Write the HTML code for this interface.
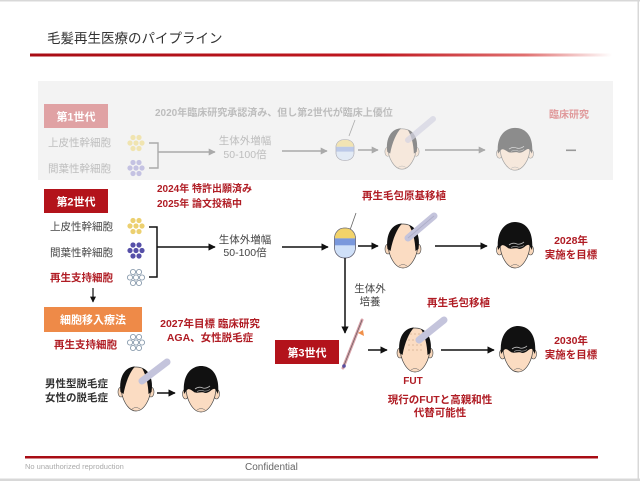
<!DOCTYPE html>
<html><head><meta charset="utf-8">
<style>
html,body{margin:0;padding:0;background:#fff;}
svg{display:block;}
text{font-family:"Liberation Sans","Noto Sans CJK JP",sans-serif;}
</style></head>
<body>
<svg width="640" height="481" viewBox="0 0 640 481" xmlns="http://www.w3.org/2000/svg">
<defs>
  <linearGradient id="tl" x1="30" y1="0" x2="612" y2="0" gradientUnits="userSpaceOnUse">
    <stop offset="0" stop-color="#a80c14"/>
    <stop offset="0.6" stop-color="#c01820"/>
    <stop offset="0.85" stop-color="#e07070"/>
    <stop offset="1" stop-color="#fff"/>
  </linearGradient>
  <marker id="ah" viewBox="0 0 10 10" refX="9" refY="5" markerWidth="5" markerHeight="5" orient="auto">
    <path d="M0,0 L10,5 L0,10 Z" fill="#111"/>
  </marker>
  <marker id="ahg" viewBox="0 0 10 10" refX="9" refY="5" markerWidth="5" markerHeight="5" orient="auto">
    <path d="M0,0 L10,5 L0,10 Z" fill="#aaa"/>
  </marker>
  <g id="bald">
    <ellipse cx="-15" cy="3" rx="3" ry="5" fill="#f8d7bb" stroke="#444" stroke-width=".6"/>
    <ellipse cx="15" cy="3" rx="3" ry="5" fill="#f8d7bb" stroke="#444" stroke-width=".6"/>
    <path d="M-15,-3 C-15,-17 -8,-22 0,-22 C8,-22 15,-17 15,-3 C15,10 8,22 0,22 C-8,22 -15,10 -15,-3Z" fill="#fbdcc2" stroke="#444" stroke-width=".7"/>
    <path d="M-15.5,3 C-17.5,-12 -11,-22 -1,-22.5 C-6,-17 -10,-8 -12.5,5 Z" fill="#111"/>
    <path d="M15.5,3 C17.5,-10 13,-19 6,-21 C10,-14 12,-6 12.5,5 Z" fill="#111"/>
    <path d="M-4,20 q4,-3 8,0" fill="none" stroke="#666" stroke-width=".5"/>
  </g>
  <g id="full">
    <ellipse cx="-15.5" cy="4" rx="3" ry="5" fill="#f8d7bb" stroke="#444" stroke-width=".6"/>
    <ellipse cx="15.5" cy="4" rx="3" ry="5" fill="#f8d7bb" stroke="#444" stroke-width=".6"/>
    <path d="M-15,-3 C-15,-17 -8,-22 0,-22 C8,-22 15,-17 15,-3 C15,10 8,22 0,22 C-8,22 -15,10 -15,-3Z" fill="#fbdcc2" stroke="#444" stroke-width=".7"/>
    <path d="M-17,4 C-19,-16 -9,-24 0,-24 C10,-24 19,-16 17,4 L14,-1 C11,-2 9,3 4,3 C0,1 -4,4 -7,2 C-10,0 -12,-2 -14,0 Z" fill="#111"/>
    <path d="M-6,-1 q4,-3 8,-1 q3,1 7,-2" fill="none" stroke="#bbb" stroke-width=".8"/>
    <path d="M-4,1.5 q4,-2 7,-0.5 q3,0.5 6,-1.5" fill="none" stroke="#999" stroke-width=".7"/>
    <path d="M-4,20 q4,-3 8,0" fill="none" stroke="#666" stroke-width=".5"/>
  </g>
  <g id="flask">
    <rect x="-10" y="-13" width="20" height="26" rx="9" fill="#cfe0f8" stroke="#667" stroke-width=".6"/>
    <path d="M-10,-4 C-10,-10 -5,-13 0,-13 C5,-13 10,-10 10,-4 Z" fill="#f2d36a"/>
    <rect x="-10" y="-4" width="20" height="6" fill="#7a98dc"/>
    <rect x="-10" y="-13" width="20" height="26" rx="9" fill="none" stroke="#667" stroke-width=".6"/>
  </g>
  <g id="dotsY">
    <circle cx="133" cy="0" r="2.6"/><circle cx="139" cy="0" r="2.6"/>
    <circle cx="130" cy="5.5" r="2.6"/><circle cx="136" cy="5.5" r="2.6"/><circle cx="142" cy="5.5" r="2.6"/>
    <circle cx="133" cy="11" r="2.6"/><circle cx="139" cy="11" r="2.6"/>
  </g>
</defs>

<!-- page borders -->
<rect x="0" y="0" width="640" height="1.5" fill="#d8d8d8"/>
<rect x="637.5" y="0" width="1.5" height="481" fill="#d8d8d8"/>
<rect x="0" y="478.5" width="640" height="2.5" fill="#d8d8d8"/>

<!-- title -->
<text x="47" y="43" font-size="13.5" fill="#333">毛髪再生医療のパイプライン</text>
<rect x="30" y="53.5" width="582" height="3" fill="url(#tl)"/>

<!-- Gen1 gray box -->
<rect x="38" y="81" width="575" height="99" fill="#f3f3f3"/>
<rect x="44" y="104" width="64" height="24" fill="#e0a2a4"/>
<text x="76" y="120.5" font-size="11" font-weight="bold" fill="#fff" text-anchor="middle">第1世代</text>
<text x="155" y="116" font-size="10" font-weight="bold" fill="#bdbdbd">2020年臨床研究承認済み、但し第2世代が臨床上優位</text>
<text x="549" y="118" font-size="10" font-weight="bold" fill="#e0999b">臨床研究</text>
<text x="48" y="146" font-size="10.5" fill="#bdbdbd">上皮性幹細胞</text>
<text x="48" y="172" font-size="10.5" fill="#bdbdbd">間葉性幹細胞</text>
<use href="#dotsY" transform="translate(0,137.5)" fill="#f0e4b0"/>
<use href="#dotsY" transform="translate(0,162.5)" fill="#c4c2e2"/>
<path d="M149,143 H158 V168 H149" fill="none" stroke="#aaa" stroke-width="1.4"/>
<line x1="158" y1="152" x2="215" y2="152" stroke="#aaa" stroke-width="1.4" marker-end="url(#ahg)"/>
<text x="245" y="144" font-size="10.5" fill="#bdbdbd" text-anchor="middle">生体外増幅</text>
<text x="245" y="158" font-size="10.5" fill="#bdbdbd" text-anchor="middle">50-100倍</text>
<line x1="282" y1="151" x2="327" y2="151" stroke="#aaa" stroke-width="1.4" marker-end="url(#ahg)"/>
<g opacity="0.45">
  <line x1="349" y1="136" x2="355" y2="120" stroke="#555" stroke-width=".8"/>
  <use href="#flask" transform="translate(345,150) scale(0.9,0.8)"/>
  <use href="#bald" transform="translate(402,149) scale(0.95,0.92)"/>
  <use href="#full" transform="translate(515,150) scale(1,0.92)"/>
</g>
<line x1="408" y1="140" x2="433" y2="119" stroke="#d4d4e2" stroke-width="6" stroke-linecap="round" opacity="0.7"/>
<line x1="358" y1="150" x2="378" y2="150" stroke="#aaa" stroke-width="1.4" marker-end="url(#ahg)"/>
<line x1="425" y1="150" x2="485" y2="150" stroke="#aaa" stroke-width="1.4" marker-end="url(#ahg)"/>
<rect x="566" y="149.5" width="10" height="1.6" fill="#999"/>

<!-- Gen2 -->
<rect x="44" y="189" width="64" height="24" fill="#b3131b"/>
<text x="76" y="205.5" font-size="11" font-weight="bold" fill="#fff" text-anchor="middle">第2世代</text>
<text x="157" y="192" font-size="10" font-weight="bold" fill="#b01c24">2024年  特許出願済み</text>
<text x="157" y="207" font-size="10" font-weight="bold" fill="#b01c24">2025年  論文投稿中</text>
<text x="50" y="230" font-size="10.5" fill="#444">上皮性幹細胞</text>
<text x="50" y="256" font-size="10.5" fill="#444">間葉性幹細胞</text>
<text x="50" y="281" font-size="10.5" font-weight="bold" fill="#b01c24">再生支持細胞</text>
<use href="#dotsY" transform="translate(0,220.5)" fill="#ecd070"/>
<use href="#dotsY" transform="translate(0,245)" fill="#5650a8"/>
<use href="#dotsY" transform="translate(0,272)" fill="none" stroke="#8a9cae" stroke-width=".9"/>
<path d="M149,227 H157 V277 H149" fill="none" stroke="#111" stroke-width="1.5"/>
<line x1="157" y1="247" x2="215" y2="247" stroke="#111" stroke-width="1.5" marker-end="url(#ah)"/>
<text x="245" y="243" font-size="10.5" fill="#444" text-anchor="middle">生体外増幅</text>
<text x="245" y="256" font-size="10.5" fill="#444" text-anchor="middle">50-100倍</text>
<line x1="282" y1="247" x2="328" y2="247" stroke="#111" stroke-width="1.5" marker-end="url(#ah)"/>
<line x1="350" y1="230" x2="356" y2="213" stroke="#666" stroke-width=".8"/>
<use href="#flask" transform="translate(345,243) scale(1.05,1.15)"/>
<line x1="345" y1="258" x2="345" y2="333" stroke="#111" stroke-width="1.5" marker-end="url(#ah)"/>
<line x1="358" y1="246" x2="378" y2="246" stroke="#111" stroke-width="1.5" marker-end="url(#ah)"/>
<use href="#bald" transform="translate(403,246)"/>
<line x1="408" y1="238" x2="434" y2="216" stroke="#c4c4dc" stroke-width="7" stroke-linecap="round"/>
<line x1="408" y1="238" x2="434" y2="216" stroke="#9a9ab8" stroke-width="1" opacity=".5"/>
<line x1="435" y1="246" x2="487" y2="246" stroke="#111" stroke-width="1.5" marker-end="url(#ah)"/>
<use href="#full" transform="translate(515,246)"/>
<text x="404" y="199" font-size="10.5" font-weight="bold" fill="#b01c24" text-anchor="middle">再生毛包原基移植</text>
<text x="571" y="244" font-size="10.5" font-weight="bold" fill="#b01c24" text-anchor="middle">2028年</text>
<text x="571" y="258" font-size="10.5" font-weight="bold" fill="#b01c24" text-anchor="middle">実施を目標</text>

<!-- down arrow -->
<line x1="93" y1="288" x2="93" y2="302" stroke="#111" stroke-width="1.2" marker-end="url(#ah)"/>

<!-- cell therapy -->
<rect x="44" y="307" width="98" height="25" fill="#ee8a48"/>
<text x="93" y="323.5" font-size="11" font-weight="bold" fill="#fff" text-anchor="middle">細胞移入療法</text>
<text x="210" y="327" font-size="10.5" font-weight="bold" fill="#b01c24" text-anchor="middle">2027年目標  臨床研究</text>
<text x="210" y="341" font-size="10.5" font-weight="bold" fill="#b01c24" text-anchor="middle">AGA、女性脱毛症</text>
<text x="54" y="348" font-size="10.5" font-weight="bold" fill="#b01c24">再生支持細胞</text>
<use href="#dotsY" transform="translate(0,337)" fill="none" stroke="#8a9cae" stroke-width=".9"/>
<text x="45" y="387" font-size="10.5" font-weight="bold" fill="#333">男性型脱毛症</text>
<text x="45" y="401" font-size="10.5" font-weight="bold" fill="#333">女性の脱毛症</text>
<use href="#bald" transform="translate(136,389)"/>
<line x1="142" y1="381" x2="167" y2="362" stroke="#c4c4dc" stroke-width="7" stroke-linecap="round"/>
<line x1="157" y1="393" x2="175" y2="393" stroke="#111" stroke-width="1.5" marker-end="url(#ah)"/>
<use href="#full" transform="translate(201,390)"/>

<!-- Gen3 -->
<text x="370" y="292" font-size="10.5" fill="#444" text-anchor="middle">生体外</text>
<text x="370" y="305" font-size="10.5" fill="#444" text-anchor="middle">培養</text>
<rect x="275" y="340" width="64" height="24" fill="#b3131b"/>
<text x="307" y="356.5" font-size="11" font-weight="bold" fill="#fff" text-anchor="middle">第3世代</text>
<line x1="343" y1="368" x2="362" y2="320" stroke="#d8a0a8" stroke-width="3" stroke-linecap="round"/>
<line x1="343" y1="368" x2="362" y2="320" stroke="#555" stroke-width=".6"/>
<circle cx="344" cy="366" r="1.8" fill="#5a4fa0"/>
<path d="M358,333 l5,-3 l1,6 z" fill="#f0904a"/>
<line x1="368" y1="350" x2="387" y2="350" stroke="#111" stroke-width="1.5" marker-end="url(#ah)"/>
<use href="#bald" transform="translate(415,350)"/>
<g fill="#c8a080">
  <circle cx="409" cy="340" r=".6"/><circle cx="413" cy="340" r=".6"/><circle cx="417" cy="340" r=".6"/><circle cx="421" cy="340" r=".6"/>
  <circle cx="409" cy="345" r=".6"/><circle cx="413" cy="345" r=".6"/><circle cx="417" cy="345" r=".6"/><circle cx="421" cy="345" r=".6"/>
  <circle cx="409" cy="350" r=".6"/><circle cx="413" cy="350" r=".6"/><circle cx="417" cy="350" r=".6"/><circle cx="421" cy="350" r=".6"/>
  <circle cx="411" cy="334" r=".6"/><circle cx="415" cy="334" r=".6"/><circle cx="419" cy="334" r=".6"/>
</g>
<line x1="419" y1="340" x2="444" y2="320" stroke="#c4c4dc" stroke-width="7" stroke-linecap="round"/>
<text x="427" y="306" font-size="10.5" font-weight="bold" fill="#b01c24">再生毛包移植</text>
<line x1="441" y1="350" x2="494" y2="350" stroke="#111" stroke-width="1.5" marker-end="url(#ah)"/>
<use href="#full" transform="translate(518,350)"/>
<text x="571" y="344" font-size="10.5" font-weight="bold" fill="#b01c24" text-anchor="middle">2030年</text>
<text x="571" y="358" font-size="10.5" font-weight="bold" fill="#b01c24" text-anchor="middle">実施を目標</text>
<text x="413" y="384" font-size="10" font-weight="bold" fill="#b01c24" text-anchor="middle">FUT</text>
<text x="440" y="403" font-size="10.5" font-weight="bold" fill="#b01c24" text-anchor="middle">現行のFUTと高親和性</text>
<text x="440" y="416" font-size="10.5" font-weight="bold" fill="#b01c24" text-anchor="middle">代替可能性</text>

<!-- footer -->
<rect x="25" y="456" width="573" height="2.5" fill="#a80c14"/>
<text x="25" y="469" font-size="7.5" fill="#aaa">No unauthorized reproduction</text>
<text x="245" y="470" font-size="10" fill="#666">Confidential</text>
</svg>
</body></html>
